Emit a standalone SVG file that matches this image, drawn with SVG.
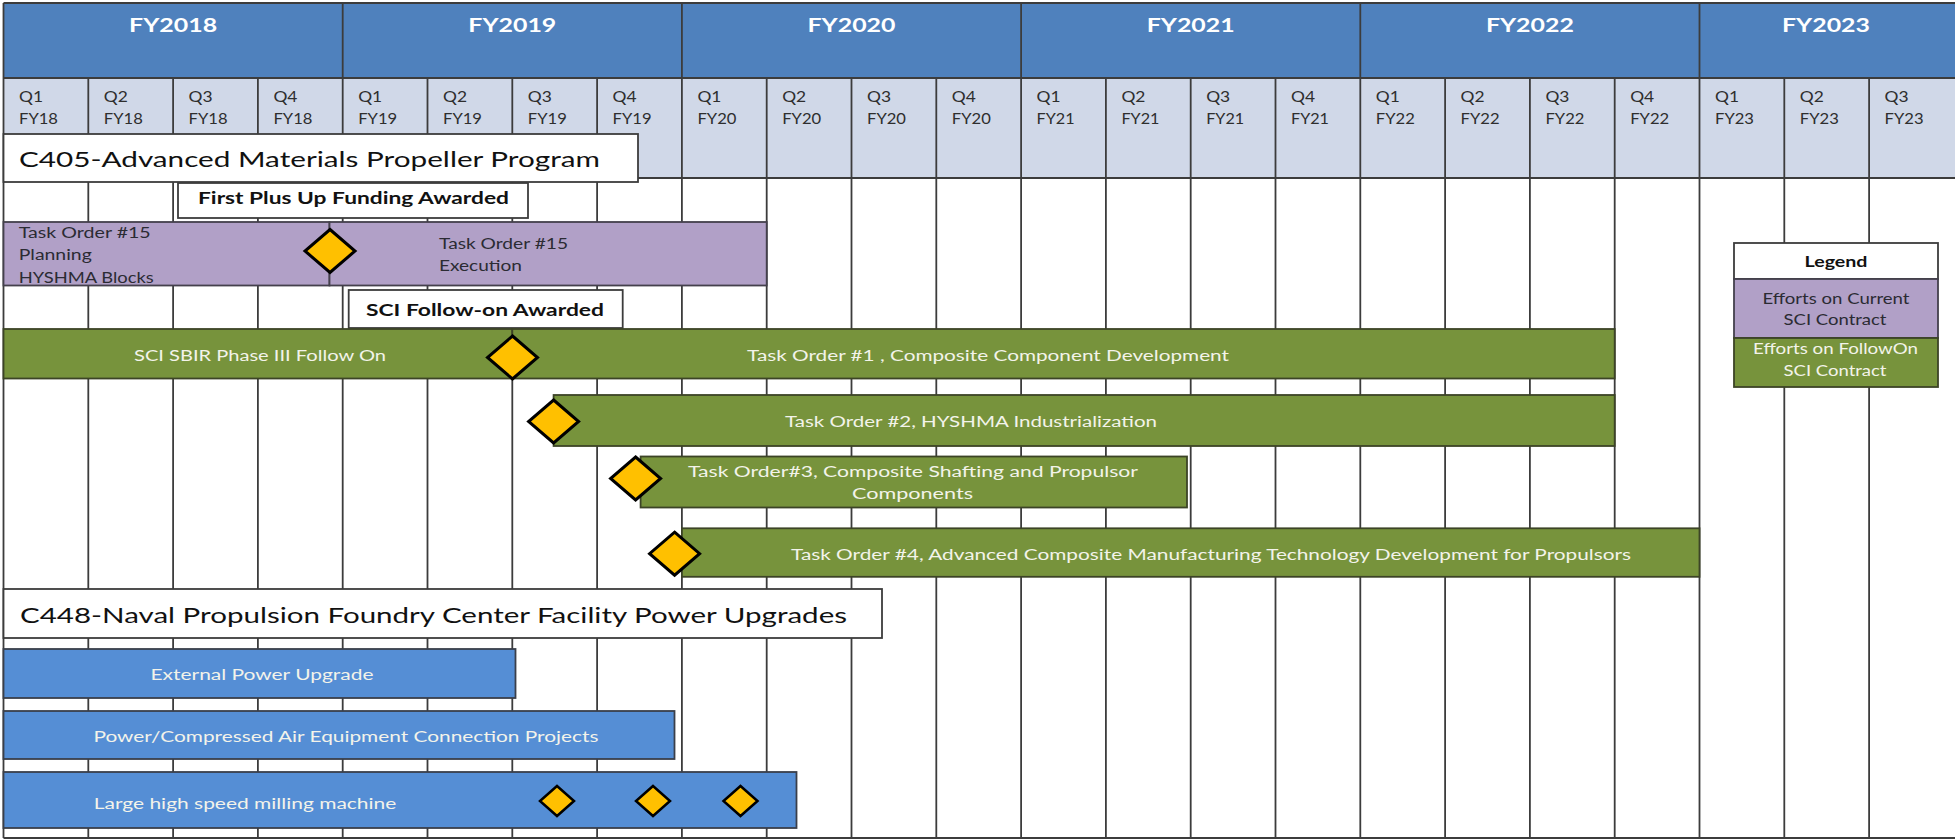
<svg xmlns="http://www.w3.org/2000/svg" xmlns:xlink="http://www.w3.org/1999/xlink" width="1955" height="840" viewBox="0 0 1955 840">
  <style>
    text { font-family: Lato, "Liberation Sans", "DejaVu Sans", sans-serif; }
    .yr { font-size: 19.5px; font-weight: bold; fill: #ffffff; text-anchor: middle; }
    .q { font-size: 16px; fill: #2e2e2e; }
    .title { font-size: 21.5px; fill: #111111; }
    .callout { font-size: 17.5px; font-weight: bold; fill: #111111; text-anchor: middle; }
    .dk { font-size: 15.5px; fill: #2b2b33; }
    .lt { font-size: 15.5px; fill: #f3f3ea; text-anchor: middle; }
    .lg { font-size: 15px; text-anchor: middle; }
    .mid { text-anchor: middle; }
    .grid line { stroke: #3c3c3c; stroke-width: 1.8; }
    .box { fill: #ffffff; stroke: #3c3c3c; stroke-width: 1.8; }
    .bar-p { fill: #b1a0c7; stroke: #44404c; stroke-width: 1.8; }
    .bar-g { fill: #77933c; stroke: #3c4426; stroke-width: 1.8; }
    .bar-b { fill: #558ed5; stroke: #3a3f4a; stroke-width: 1.8; }
    .dia { fill: #ffc000; stroke: #000000; stroke-width: 3; stroke-linejoin: miter; }
    .dia-s { fill: #ffc000; stroke: #000000; stroke-width: 2.5; stroke-linejoin: miter; }
  </style>
  <defs>
    <polygon id="diamond" points="0,-21.5 25,0 0,21.5 -25,0"/>
    <polygon id="diamond-small" points="0,-15 17,0 0,15 -17,0"/>
  </defs>

  <!-- background -->
  <rect x="0" y="0" width="1955" height="840" fill="#ffffff"/>

  <!-- header bands -->
  <g id="header">
    <rect x="3.5" y="3" width="1951.5" height="75" fill="#4f81bd"/>
    <rect x="3.5" y="78" width="1951.5" height="100" fill="#d0d8e8"/>
    <text class="yr" x="173.1" y="32.3" textLength="88" lengthAdjust="spacingAndGlyphs">FY2018</text>
    <text class="yr" x="512.3" y="32.3" textLength="88" lengthAdjust="spacingAndGlyphs">FY2019</text>
    <text class="yr" x="851.5" y="32.3" textLength="88" lengthAdjust="spacingAndGlyphs">FY2020</text>
    <text class="yr" x="1190.7" y="32.3" textLength="88" lengthAdjust="spacingAndGlyphs">FY2021</text>
    <text class="yr" x="1529.9" y="32.3" textLength="88" lengthAdjust="spacingAndGlyphs">FY2022</text>
    <text class="yr" x="1826" y="32.3" textLength="88" lengthAdjust="spacingAndGlyphs">FY2023</text>
  </g>

  <!-- quarter labels -->
  <g id="quarters" class="q">
    <text x="19" y="101.5" textLength="24" lengthAdjust="spacingAndGlyphs">Q1</text><text x="19" y="123.5" textLength="39" lengthAdjust="spacingAndGlyphs">FY18</text>
    <text x="103.8" y="101.5" textLength="24" lengthAdjust="spacingAndGlyphs">Q2</text><text x="103.8" y="123.5" textLength="39" lengthAdjust="spacingAndGlyphs">FY18</text>
    <text x="188.6" y="101.5" textLength="24" lengthAdjust="spacingAndGlyphs">Q3</text><text x="188.6" y="123.5" textLength="39" lengthAdjust="spacingAndGlyphs">FY18</text>
    <text x="273.4" y="101.5" textLength="24" lengthAdjust="spacingAndGlyphs">Q4</text><text x="273.4" y="123.5" textLength="39" lengthAdjust="spacingAndGlyphs">FY18</text>
    <text x="358.2" y="101.5" textLength="24" lengthAdjust="spacingAndGlyphs">Q1</text><text x="358.2" y="123.5" textLength="39" lengthAdjust="spacingAndGlyphs">FY19</text>
    <text x="443" y="101.5" textLength="24" lengthAdjust="spacingAndGlyphs">Q2</text><text x="443" y="123.5" textLength="39" lengthAdjust="spacingAndGlyphs">FY19</text>
    <text x="527.8" y="101.5" textLength="24" lengthAdjust="spacingAndGlyphs">Q3</text><text x="527.8" y="123.5" textLength="39" lengthAdjust="spacingAndGlyphs">FY19</text>
    <text x="612.6" y="101.5" textLength="24" lengthAdjust="spacingAndGlyphs">Q4</text><text x="612.6" y="123.5" textLength="39" lengthAdjust="spacingAndGlyphs">FY19</text>
    <text x="697.4" y="101.5" textLength="24" lengthAdjust="spacingAndGlyphs">Q1</text><text x="697.4" y="123.5" textLength="39" lengthAdjust="spacingAndGlyphs">FY20</text>
    <text x="782.2" y="101.5" textLength="24" lengthAdjust="spacingAndGlyphs">Q2</text><text x="782.2" y="123.5" textLength="39" lengthAdjust="spacingAndGlyphs">FY20</text>
    <text x="867" y="101.5" textLength="24" lengthAdjust="spacingAndGlyphs">Q3</text><text x="867" y="123.5" textLength="39" lengthAdjust="spacingAndGlyphs">FY20</text>
    <text x="951.8" y="101.5" textLength="24" lengthAdjust="spacingAndGlyphs">Q4</text><text x="951.8" y="123.5" textLength="39" lengthAdjust="spacingAndGlyphs">FY20</text>
    <text x="1036.6" y="101.5" textLength="24" lengthAdjust="spacingAndGlyphs">Q1</text><text x="1036.6" y="123.5" textLength="38" lengthAdjust="spacingAndGlyphs">FY21</text>
    <text x="1121.4" y="101.5" textLength="24" lengthAdjust="spacingAndGlyphs">Q2</text><text x="1121.4" y="123.5" textLength="38" lengthAdjust="spacingAndGlyphs">FY21</text>
    <text x="1206.2" y="101.5" textLength="24" lengthAdjust="spacingAndGlyphs">Q3</text><text x="1206.2" y="123.5" textLength="38" lengthAdjust="spacingAndGlyphs">FY21</text>
    <text x="1291" y="101.5" textLength="24" lengthAdjust="spacingAndGlyphs">Q4</text><text x="1291" y="123.5" textLength="38" lengthAdjust="spacingAndGlyphs">FY21</text>
    <text x="1375.8" y="101.5" textLength="24" lengthAdjust="spacingAndGlyphs">Q1</text><text x="1375.8" y="123.5" textLength="39" lengthAdjust="spacingAndGlyphs">FY22</text>
    <text x="1460.6" y="101.5" textLength="24" lengthAdjust="spacingAndGlyphs">Q2</text><text x="1460.6" y="123.5" textLength="39" lengthAdjust="spacingAndGlyphs">FY22</text>
    <text x="1545.4" y="101.5" textLength="24" lengthAdjust="spacingAndGlyphs">Q3</text><text x="1545.4" y="123.5" textLength="39" lengthAdjust="spacingAndGlyphs">FY22</text>
    <text x="1630.2" y="101.5" textLength="24" lengthAdjust="spacingAndGlyphs">Q4</text><text x="1630.2" y="123.5" textLength="39" lengthAdjust="spacingAndGlyphs">FY22</text>
    <text x="1715" y="101.5" textLength="24" lengthAdjust="spacingAndGlyphs">Q1</text><text x="1715" y="123.5" textLength="39" lengthAdjust="spacingAndGlyphs">FY23</text>
    <text x="1799.8" y="101.5" textLength="24" lengthAdjust="spacingAndGlyphs">Q2</text><text x="1799.8" y="123.5" textLength="39" lengthAdjust="spacingAndGlyphs">FY23</text>
    <text x="1884.6" y="101.5" textLength="24" lengthAdjust="spacingAndGlyphs">Q3</text><text x="1884.6" y="123.5" textLength="39" lengthAdjust="spacingAndGlyphs">FY23</text>
  </g>

  <!-- grid rules: year dividers run full height, quarter dividers start under the year band -->
  <g id="connectors" class="grid">
    <line x1="3.5" y1="3" x2="1955" y2="3"/>
    <line x1="3.5" y1="78" x2="1955" y2="78"/>
    <line x1="3.5" y1="178" x2="1955" y2="178"/>
    <line x1="3.5" y1="838" x2="1955" y2="838"/>
    <line x1="3.5" y1="3" x2="3.5" y2="838"/>
    <line x1="88.3" y1="78" x2="88.3" y2="838"/>
    <line x1="173.1" y1="78" x2="173.1" y2="838"/>
    <line x1="257.9" y1="78" x2="257.9" y2="838"/>
    <line x1="342.7" y1="3" x2="342.7" y2="838"/>
    <line x1="427.5" y1="78" x2="427.5" y2="838"/>
    <line x1="512.3" y1="78" x2="512.3" y2="838"/>
    <line x1="597.1" y1="78" x2="597.1" y2="838"/>
    <line x1="681.9" y1="3" x2="681.9" y2="838"/>
    <line x1="766.7" y1="78" x2="766.7" y2="838"/>
    <line x1="851.5" y1="78" x2="851.5" y2="838"/>
    <line x1="936.3" y1="78" x2="936.3" y2="838"/>
    <line x1="1021.1" y1="3" x2="1021.1" y2="838"/>
    <line x1="1105.9" y1="78" x2="1105.9" y2="838"/>
    <line x1="1190.7" y1="78" x2="1190.7" y2="838"/>
    <line x1="1275.5" y1="78" x2="1275.5" y2="838"/>
    <line x1="1360.3" y1="3" x2="1360.3" y2="838"/>
    <line x1="1445.1" y1="78" x2="1445.1" y2="838"/>
    <line x1="1529.9" y1="78" x2="1529.9" y2="838"/>
    <line x1="1614.7" y1="78" x2="1614.7" y2="838"/>
    <line x1="1699.5" y1="3" x2="1699.5" y2="838"/>
    <line x1="1784.3" y1="78" x2="1784.3" y2="838"/>
    <line x1="1869.1" y1="78" x2="1869.1" y2="838"/>
  </g>

  <!-- C405 program -->
  <g id="c405-title">
    <rect class="box" x="3.5" y="134" width="634.5" height="48"/>
    <text class="title" x="19" y="167" textLength="581" lengthAdjust="spacingAndGlyphs">C405-Advanced Materials Propeller Program</text>
  </g>

  <g id="plus-up-callout">
    <rect class="box" x="178" y="183" width="350" height="35"/>
    <text class="callout" x="353.5" y="204" textLength="311" lengthAdjust="spacingAndGlyphs">First Plus Up Funding Awarded</text>
  </g>

  <g id="task-order-15">
    <rect class="bar-p" x="3.5" y="222" width="326" height="63.5"/>
    <rect class="bar-p" x="329.5" y="222" width="437.2" height="63.5"/>
    <text class="dk" x="18.75" y="237.5" textLength="132" lengthAdjust="spacingAndGlyphs">Task Order #15</text>
    <text class="dk" x="18.75" y="260" textLength="73" lengthAdjust="spacingAndGlyphs">Planning</text>
    <text class="dk" x="18.75" y="282.5" textLength="135" lengthAdjust="spacingAndGlyphs">HYSHMA Blocks</text>
    <text class="dk" x="439" y="249.3" textLength="129" lengthAdjust="spacingAndGlyphs">Task Order #15</text>
    <text class="dk" x="439" y="270.7" textLength="83" lengthAdjust="spacingAndGlyphs">Execution</text>
    <use xlink:href="#diamond" class="dia" x="330" y="251"/>
  </g>

  <g id="follow-on-callout">
    <rect class="box" x="348.7" y="290" width="274" height="38"/>
    <text class="callout" x="485" y="315.7" font-size="18" textLength="238" lengthAdjust="spacingAndGlyphs">SCI Follow-on Awarded</text>
  </g>

  <g id="task-order-1">
    <rect class="bar-g" x="3.5" y="329" width="508.8" height="49.5"/>
    <rect class="bar-g" x="512.3" y="329" width="1102.4" height="49.5"/>
    <text class="lt" x="260" y="361" textLength="252" lengthAdjust="spacingAndGlyphs">SCI SBIR Phase III Follow On</text>
    <text class="lt" x="988" y="361" textLength="482" lengthAdjust="spacingAndGlyphs">Task Order #1 , Composite Component Development</text>
    <use xlink:href="#diamond" class="dia" x="512.5" y="357.5"/>
  </g>

  <g id="task-order-2">
    <rect class="bar-g" x="553.6" y="395" width="1061.1" height="51"/>
    <text class="lt" x="971" y="427.3" textLength="372" lengthAdjust="spacingAndGlyphs">Task Order #2, HYSHMA Industrialization</text>
    <use xlink:href="#diamond" class="dia" x="553.6" y="421.5"/>
  </g>

  <g id="task-order-3">
    <rect class="bar-g" x="640.6" y="456.5" width="546.4" height="51"/>
    <text class="lt" x="913" y="476.8" textLength="450" lengthAdjust="spacingAndGlyphs">Task Order#3,  Composite Shafting and Propulsor</text>
    <text class="lt" x="912.5" y="498.5" textLength="121" lengthAdjust="spacingAndGlyphs">Components</text>
    <use xlink:href="#diamond" class="dia" x="635.6" y="478.5"/>
  </g>

  <g id="task-order-4">
    <rect class="bar-g" x="681.9" y="528.3" width="1017.6" height="48.5"/>
    <text class="lt" x="1211" y="560" textLength="840" lengthAdjust="spacingAndGlyphs">Task Order #4,  Advanced Composite Manufacturing Technology Development for Propulsors</text>
    <use xlink:href="#diamond" class="dia" x="674.6" y="553.7"/>
  </g>

  <!-- C448 program -->
  <g id="c448-title">
    <rect class="box" x="3.5" y="589" width="878.5" height="49"/>
    <text class="title" x="20" y="623" textLength="827" lengthAdjust="spacingAndGlyphs">C448-Naval Propulsion Foundry Center Facility Power Upgrades</text>
  </g>

  <g id="external-power">
    <rect class="bar-b" x="3.5" y="649" width="512" height="49"/>
    <text class="lt" x="262" y="680" textLength="223" lengthAdjust="spacingAndGlyphs">External Power Upgrade</text>
  </g>

  <g id="compressed-air">
    <rect class="bar-b" x="3.5" y="711" width="671" height="48"/>
    <text class="lt" x="346" y="741.7" textLength="505" lengthAdjust="spacingAndGlyphs">Power/Compressed Air Equipment Connection Projects</text>
  </g>

  <g id="milling-machine">
    <rect class="bar-b" x="3.5" y="772" width="793" height="56"/>
    <text class="lt" x="245" y="809" textLength="302.5" lengthAdjust="spacingAndGlyphs">Large high speed milling machine</text>
    <use xlink:href="#diamond-small" class="dia-s" x="557" y="801"/>
    <use xlink:href="#diamond-small" class="dia-s" x="653" y="801"/>
    <use xlink:href="#diamond-small" class="dia-s" x="740.5" y="801"/>
  </g>

  <!-- legend -->
  <g id="legend">
    <rect class="box" x="1734" y="243" width="204" height="36"/>
    <rect class="bar-p" x="1734" y="279" width="204" height="59"/>
    <rect class="bar-g" x="1734" y="338" width="204" height="49"/>
    <text class="lg" x="1836" y="267" font-weight="bold" fill="#111111" textLength="63" lengthAdjust="spacingAndGlyphs">Legend</text>
    <text class="lg" x="1836" y="303.5" fill="#2b2b33" textLength="147" lengthAdjust="spacingAndGlyphs">Efforts on Current</text>
    <text class="lg" x="1835" y="325" fill="#2b2b33" textLength="103" lengthAdjust="spacingAndGlyphs">SCI Contract</text>
    <text class="lg" x="1835.5" y="354" fill="#f3f3ea" textLength="165" lengthAdjust="spacingAndGlyphs">Efforts on FollowOn</text>
    <text class="lg" x="1835" y="375.5" fill="#f3f3ea" textLength="103" lengthAdjust="spacingAndGlyphs">SCI Contract</text>
  </g>
</svg>
